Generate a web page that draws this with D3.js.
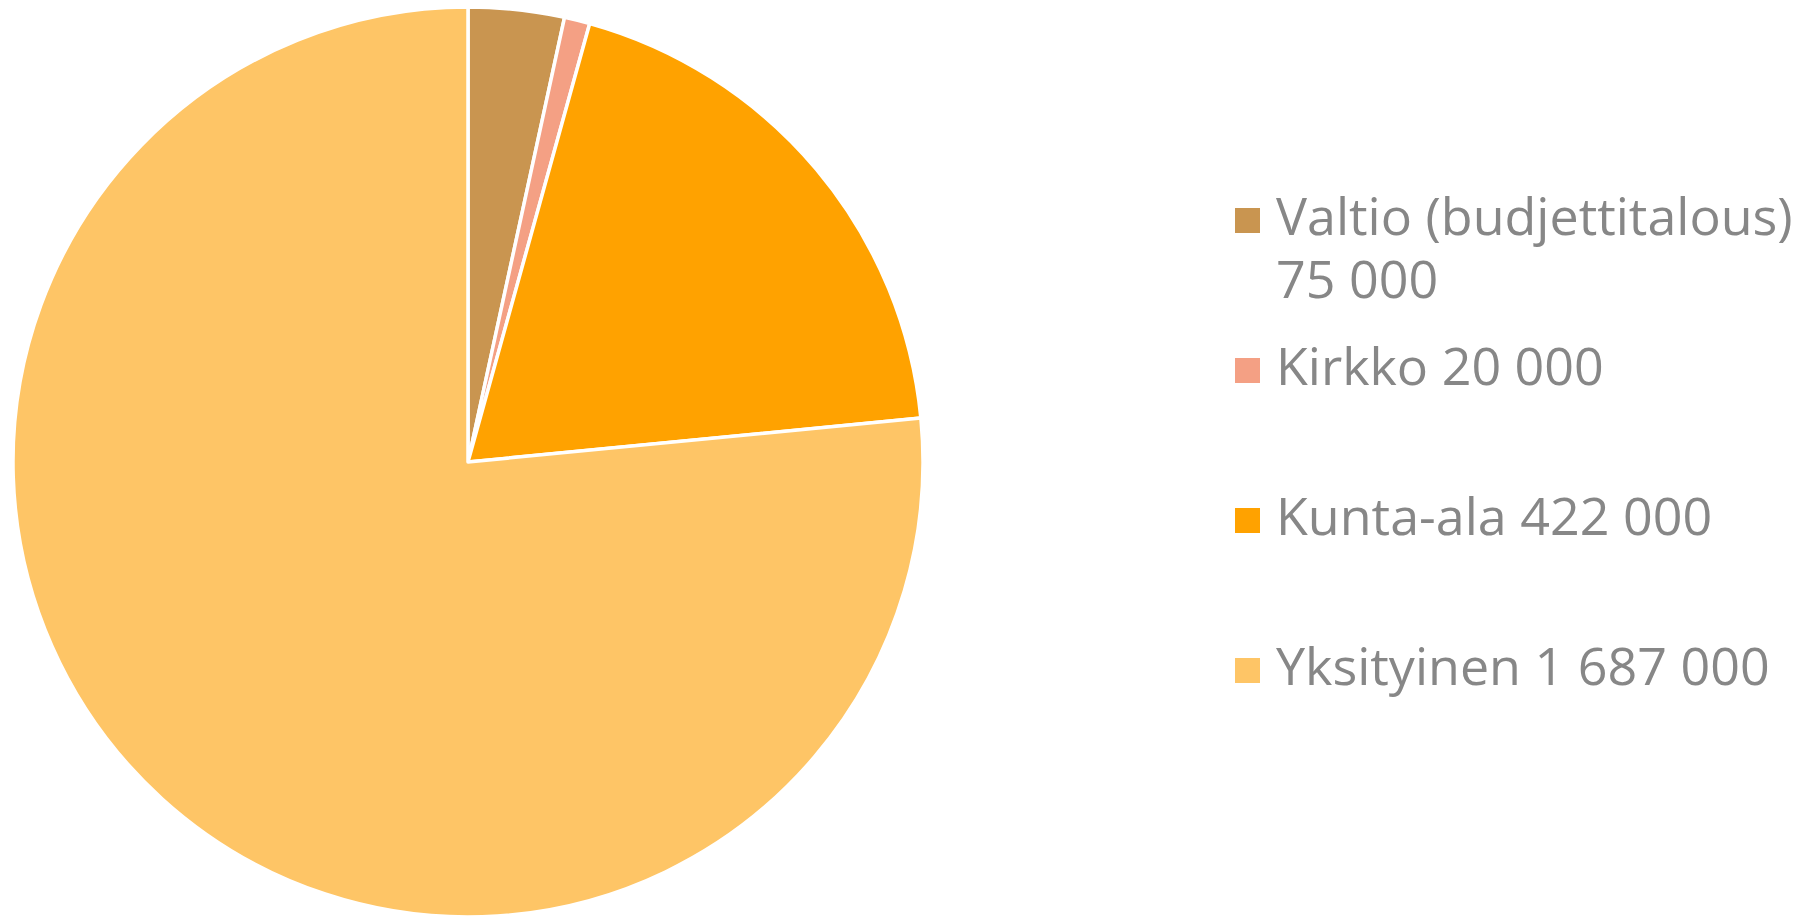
<!DOCTYPE html>
<html>
<head>
<meta charset="utf-8">
<script src="https://cdn.jsdelivr.net/npm/d3@7"></script>
<style>
  html, body { margin: 0; padding: 0; background: #fff; }
  svg { display: block; }
  .legend text { font-family: "Open Sans", "Noto Sans", sans-serif; font-size: 52px; fill: #878787; }
</style>
</head>
<body>
<svg id="chart" width="1819" height="917"></svg>
<script>
// sektorit ja arvot
const categories = ['Valtio (budjettitalous)', 'Kirkko', 'Kunta-ala', 'Yksityinen'];
const values = [75000, 20000, 422000, 1687000];
const valueLabels = ['75 000', '20 000', '422 000', '1 687 000'];
const colors = ['#C99550', '#F4A084', '#FFA200', '#FEC566'];

const width = 1819, height = 917;
const cx = 468, cy = 462, radius = 455;

const svg = d3.select('#chart');

const data = categories.map((name, i) => ({ name, value: values[i], label: valueLabels[i], color: colors[i] }));

const pie = d3.pie()
  .sort(null)
  .value(d => d.value);

const arc = d3.arc()
  .innerRadius(0)
  .outerRadius(radius);

const main = svg.append('g')
  .attr('class', 'main')
  .attr('transform', `translate(${cx},${cy})`);

main.selectAll('path.slice')
  .data(pie(data))
  .enter()
  .append('path')
  .attr('class', 'slice')
  .attr('d', arc)
  .attr('fill', d => d.data.color)
  .attr('stroke', '#fff')
  .attr('stroke-width', 3.5)
  .attr('stroke-linejoin', 'round');

// legenda
const legendX = 1235, legendY = 208, itemStep = 150, sw = 25;

const legend = svg.append('g')
  .attr('class', 'legend');

const item = legend.selectAll('g.item')
  .data(data)
  .enter()
  .append('g')
  .attr('class', 'item')
  .attr('transform', (d, i) => `translate(${legendX},${legendY + i * itemStep})`);

item.append('rect')
  .attr('width', sw)
  .attr('height', sw)
  .attr('fill', d => d.color);

// ensimmäinen rivitetään kahdelle riville kuten alkuperäisessä
item.append('text')
  .attr('x', 41)
  .attr('y', 27)
  .each(function (d, i) {
    const t = d3.select(this);
    if (i === 0) {
      t.append('tspan').attr('x', 41).text(d.name);
      t.append('tspan').attr('x', 41).attr('dy', 63).text(d.label);
    } else {
      t.text(`${d.name} ${d.label}`);
    }
  });
</script>
</body>
</html>
